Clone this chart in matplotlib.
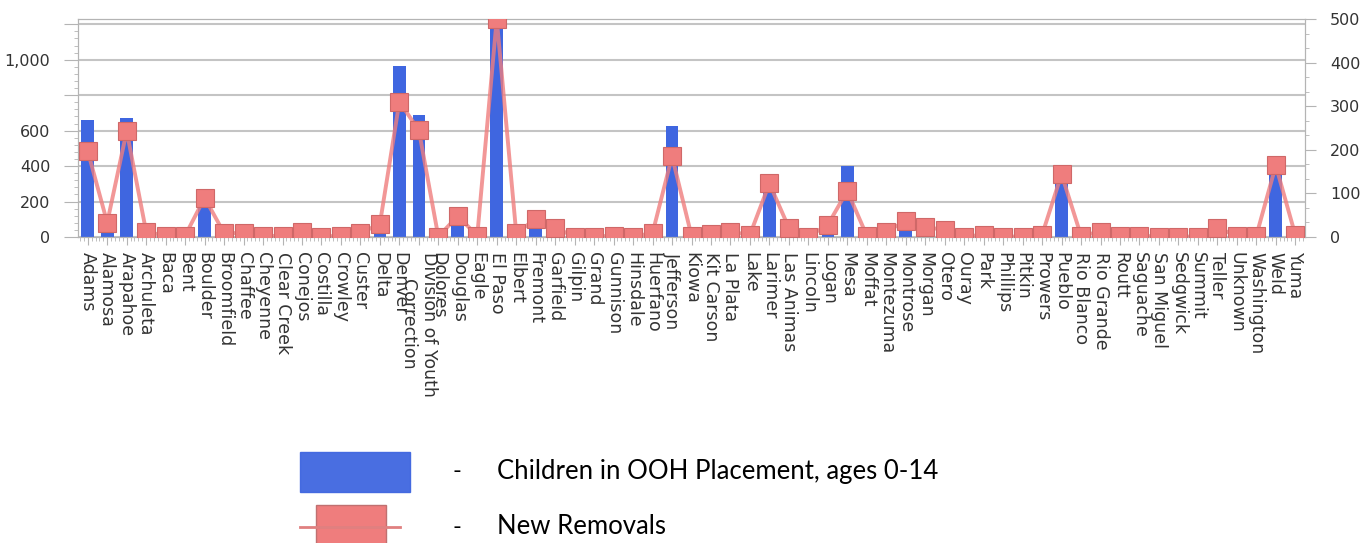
import numpy as np
import matplotlib.pyplot as plt
from matplotlib.ticker import MultipleLocator, FuncFormatter
from matplotlib.patches import Rectangle
from matplotlib.lines import Line2D

counties = ["Adams", "Alamosa", "Arapahoe", "Archuleta", "Baca", "Bent", "Boulder",
            "Broomfield", "Chaffee", "Cheyenne", "Clear Creek", "Conejos", "Costilla",
            "Crowley", "Custer", "Delta", "Denver", "Division of Youth\nCorrection",
            "Dolores", "Douglas", "Eagle", "El Paso", "Elbert", "Fremont", "Garfield",
            "Gilpin", "Grand", "Gunnison", "Hinsdale", "Huerfano", "Jefferson", "Kiowa",
            "Kit Carson", "La Plata", "Lake", "Larimer", "Las Animas", "Lincoln", "Logan",
            "Mesa", "Moffat", "Montezuma", "Montrose", "Morgan", "Otero", "Ouray", "Park",
            "Phillips", "Pitkin", "Prowers", "Pueblo", "Rio Blanco", "Rio Grande", "Routt",
            "Saguache", "San Miguel", "Sedgwick", "Summit", "Teller", "Unknown",
            "Washington", "Weld", "Yuma"]

# children in OOH placement (left axis)
children = [660, 40, 670, 10, 3, 5, 175, 10, 10, 2, 5, 10, 3, 5, 5, 25, 962, 689, 2, 75,
            5, 1205, 10, 50, 15, 2, 2, 3, 1, 10, 629, 2, 5, 10, 3, 260, 15, 2, 25, 400,
            3, 10, 45, 15, 12, 1, 3, 1, 1, 3, 330, 2, 10, 3, 3, 1, 1, 1, 15, 2, 2, 380, 3]

# new removals (right axis)
removals = [197, 33, 243, 12, 3, 3, 90, 9, 9, 2, 3, 12, 1, 3, 9, 30, 310, 245, 1, 48,
            3, 500, 9, 41, 21, 1, 1, 3, 1, 9, 185, 3, 7, 12, 5, 123, 21, 1, 28, 106,
            3, 12, 37, 22, 17, 1, 5, 1, 1, 5, 144, 3, 12, 3, 3, 1, 1, 1, 21, 3, 3, 164, 5]

bar_color = "#3f66e0"
line_color = "#ef7d7d"
grey = "#b4b4b4"

fig = plt.figure(figsize=(13.72, 5.43), dpi=100)
ax = fig.add_axes([78/1372, 1-237/543, 1227/1372, 218/543])
x = np.arange(len(counties))

ax.bar(x, children, width=0.65, color=bar_color, zorder=2)
ax.set_xlim(-0.5, len(counties) - 0.5)
ax.set_ylim(0, 1230)
ax.set_yticks([0, 200, 400, 600, 800, 1000, 1200])
ax.yaxis.set_major_formatter(FuncFormatter(
    lambda v, p: "" if v in (800, 1200) else f"{int(v):,}"))
ax.yaxis.set_minor_locator(MultipleLocator(40))
ax.grid(axis="y", color="#c4c4c4", lw=1.5)
ax.set_axisbelow(True)

ax.set_xticks(x)
ax.set_xticklabels(counties, rotation=270, fontsize=12.5, color="#333333")
ax.xaxis.set_minor_locator(MultipleLocator(0.2))

ax2 = ax.twinx()
ax2.plot(x, removals, color=line_color, lw=2.8, alpha=0.8, zorder=3)
ax2.plot(x, removals, ls="none", marker="s", ms=13.5,
         mfc=line_color, mec="#cf6868", mew=0.8, zorder=4)
ax2.set_ylim(0, 500)
ax2.set_yticks(range(0, 501, 100))
ax2.yaxis.set_minor_locator(MultipleLocator(100/3))

for a in (ax, ax2):
    for s in a.spines.values():
        s.set_color(grey)
    a.tick_params(which="major", length=8, color=grey, labelsize=11.5, labelcolor="#333333")
    a.tick_params(which="minor", length=3, color=grey)
ax.tick_params(axis="y", which="major", length=10, pad=10)
ax2.tick_params(axis="y", pad=10)
ax.tick_params(axis="x", which="major", length=6, pad=5, labelsize=12.5)

# legend drawn below the chart
fig.patches.append(Rectangle((300/1372, 1-492/543), 110/1372, 40/543,
                             transform=fig.transFigure, color=bar_color, alpha=0.95))
fig.lines.append(Line2D([300/1372, 400/1372], [1-527/543, 1-527/543],
                        transform=fig.transFigure, color="#e08080", lw=2))
fig.patches.append(Rectangle((316/1372, 1-545/543), 70/1372, 40/543,
                             transform=fig.transFigure, color=line_color, ec="#c07070"))
fig.text(452/1372, 1-472/543, "-", fontsize=17, family="Lato", va="center")
fig.text(452/1372, 1-527/543, "-", fontsize=17, family="Lato", va="center")
fig.text(497/1372, 1-472/543, "Children in OOH Placement, ages 0-14", fontsize=18.5,
         family="Lato", va="center")
fig.text(497/1372, 1-527/543, "New Removals", fontsize=18.5, family="Lato", va="center")

fig.savefig("out.png", dpi=100)
